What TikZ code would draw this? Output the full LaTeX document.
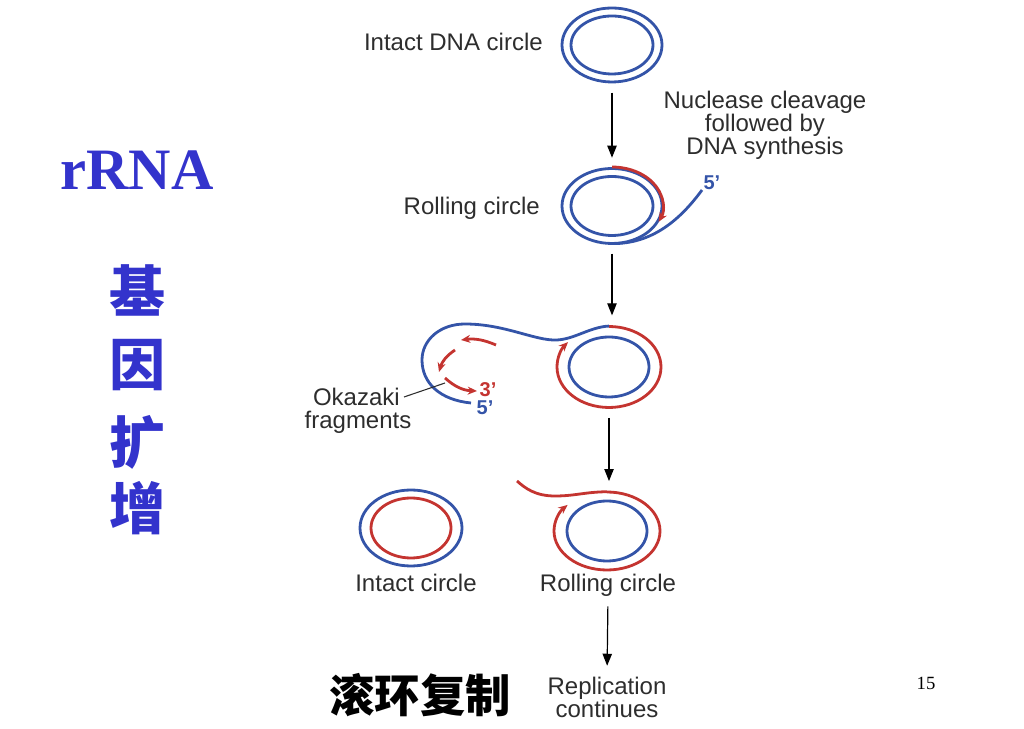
\documentclass[tikz,border=0pt]{standalone}
\usepackage{fontspec}
\setmainfont{Liberation Sans}
\newfontfamily\serif{Liberation Serif}
\newfontfamily\cjk{Noto Sans CJK SC}
\usetikzlibrary{arrows.meta,shapes.geometric}
\definecolor{dnablue}{RGB}{52,84,168}
\definecolor{dnared}{RGB}{196,52,48}
\definecolor{slideblue}{RGB}{51,51,204}
\definecolor{labelgray}{RGB}{45,45,45}

\begin{document}
\begin{tikzpicture}[x=0.75pt,y=0.75pt,
    strand/.style={line width=2.1pt},
    tip/.style={-{Stealth[length=7pt,width=6pt]}},
    lbl/.style={text=labelgray,font=\fontsize{18}{17.25}\selectfont,align=center,inner sep=0pt},
    prime/.style={font=\bfseries\fontsize{15}{15}\selectfont,inner sep=0pt},
    ring/.style={ellipse,minimum width=75pt,minimum height=56pt,inner sep=0pt},
    flow/.style={line width=0.9pt,-{Triangle[length=9pt,width=7pt]},shorten <=7.5pt,shorten >=8pt},
    han/.style={text=slideblue,font=\cjk\bfseries\fontsize{42}{42}\selectfont,inner sep=0pt}]
\useasboundingbox (0,0) rectangle (1024,728);

% slide titles
\node[text=slideblue,font=\serif\bfseries\fontsize{44}{44}\selectfont,inner sep=0pt] (rrna) at (137,558) {rRNA};
\foreach \ch/\y [count=\i] in {基/438,因/363,扩/286,增/220}
    \node[han] (g\i) at (137,\y) {\ch};
\node[font=\cjk\bfseries\fontsize{34}{34}\selectfont,inner sep=0pt] (title) at (420,33) {滚环复制};
\node[font=\serif\fontsize{14}{14}\selectfont,inner sep=0pt] (pg) at (926,45) {15};

% intact DNA circle
\node[ring] (c1) at (612,683) {};
\draw[strand,dnablue] (c1.center) ellipse [x radius=50,y radius=37];
\draw[strand,dnablue] (c1.center) ellipse [x radius=41,y radius=29];
\node[lbl,anchor=east] (t1) at (543,686) {Intact DNA circle};
\node[lbl] (t2) at (765,603) {Nuclease cleavage\\followed by\\DNA synthesis};

% rolling circle
\node[ring] (c2) at (612,522) {};
\draw[strand,dnablue] (c2.center) ellipse [x radius=50,y radius=37.5];
\draw[strand,dnablue] (c2.center) ellipse [x radius=41,y radius=29.5];
\coordinate (e2) at (702,538);
\draw[strand,dnablue] (c2.south) .. controls (652,484) and (680,508) .. (e2);
\draw[strand,dnared,tip] (c2.center) ++(90:51 and 39) arc [start angle=90,end angle=-24,x radius=51,y radius=39];
\node[prime,text=dnablue,anchor=south west] (p2) at ([xshift=1pt]e2) {5'};
\node[lbl,anchor=east] (t3) at (540,520) {Rolling circle};

% displaced strand with Okazaki fragments
\node[ring,minimum width=78pt,minimum height=61pt] (c3) at (609,361) {};
\draw[strand,dnablue] (c3.center) ellipse [x radius=40,y radius=30];
\draw[strand,dnared,tip] (c3.center) ++(90:52 and 40.5) arc [start angle=90,end angle=-218,x radius=52,y radius=40.5];
\coordinate (e3) at (471,325);
\draw[strand,dnablue] (c3.north) .. controls (590,401) and (575,389) .. (557,388)
    .. controls (535,387) and (505,404) .. (465,404)
    .. controls (440,404) and (422,388) .. (422,368)
    .. controls (422,345) and (440,328) .. (e3);
\coordinate (f1) at (496,383);
\coordinate (f2) at (461,388);
\coordinate (f3) at (455,378);
\coordinate (f4) at (439,356);
\coordinate (f5) at (445,350);
\coordinate (f6) at (477,337);
\draw[strand,dnared,tip] (f1) to[bend right=15] (f2);
\draw[strand,dnared,tip] (f3) to[bend right=20] (f4);
\draw[strand,dnared,tip] (f5) to[bend right=20] (f6);
\node[prime,text=dnared] (p3) at (488,338) {3'};
\node[prime,text=dnablue] (p4) at (485,320) {5'};
\node[lbl,anchor=east] (ok1) at (400,331) {Okazaki};
\node[lbl] (ok2) at (358,306) {fragments};
\coordinate (k1) at (445,345);
\draw[line width=0.8pt,labelgray] ([xshift=3pt]ok1.east) -- (k1);

% daughter circles
\node[ring,minimum width=76.5pt,minimum height=57pt] (c5) at (411,200) {};
\draw[strand,dnablue] (c5.center) ellipse [x radius=51,y radius=38];
\draw[strand,dnared] (c5.center) ellipse [x radius=40,y radius=30];
\node[lbl] (t5) at (416,145) {Intact circle};

\node[ring,minimum width=79.5pt,minimum height=58.5pt] (c4) at (607,197) {};
\draw[strand,dnablue] (c4.center) ellipse [x radius=40,y radius=30];
\draw[strand,dnared,tip] (c4.center) ++(90:53 and 39) arc [start angle=90,end angle=-222,x radius=53,y radius=39];
\coordinate (e4) at (517,247);
\draw[strand,dnared] (c4.north) .. controls (585,236) and (575,232) .. (555,232)
    .. controls (535,232) and (525,240) .. (e4);
\node[lbl] (t4) at (608,143) {Rolling circle};
\node[lbl] (rep) at (607,31) {Replication\\continues};

% steps
\draw[flow] (c1.south) -- (c2.north);
\draw[flow] (c2.south) -- (c2.south |- c3.north);
\draw[flow] (c3.south) -- (c3.south |- c4.north);
\draw[flow] (t4.south) -- (rep.north);
\end{tikzpicture}
\end{document}
